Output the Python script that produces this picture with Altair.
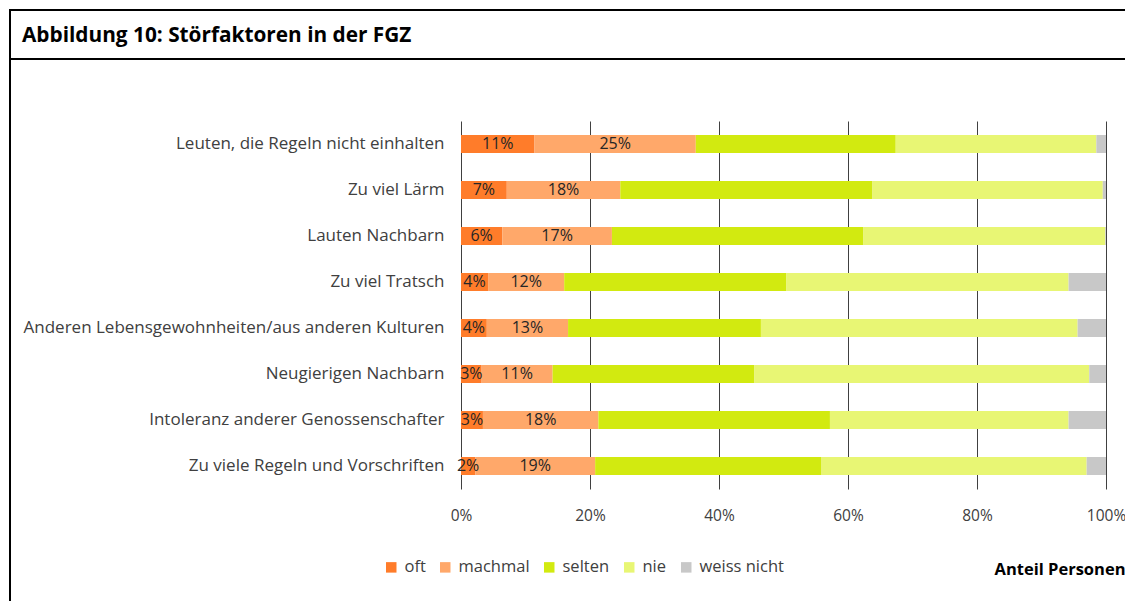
import altair as alt
import pandas as pd

# ---- data ----
items = [
    "Leuten, die Regeln nicht einhalten",
    "Zu viel Lärm",
    "Lauten Nachbarn",
    "Zu viel Tratsch",
    "Anderen Lebensgewohnheiten/aus anderen Kulturen",
    "Neugierigen Nachbarn",
    "Intoleranz anderer Genossenschafter",
    "Zu viele Regeln und Vorschriften",
]
categories = ["oft", "machmal", "selten", "nie", "weiss nicht"]
oft = [11.4, 7.1, 6.4, 4.2, 4.0, 3.2, 3.4, 2.2]
machmal = [25.0, 17.6, 17.0, 11.8, 12.6, 11.0, 17.9, 18.6]
selten = [31.0, 39.1, 39.0, 34.4, 29.9, 31.3, 35.9, 35.1]
nie = [31.1, 35.7, 37.5, 43.8, 49.1, 51.9, 37.0, 41.1]
weiss_nicht = [1.5, 0.5, 0.1, 5.8, 4.4, 2.6, 5.8, 3.0]
colors = ["#FF7C2A", "#FFA86A", "#D2EA10", "#E8F674", "#C8C8C8"]
x_ticks = [0, 0.2, 0.4, 0.6, 0.8, 1.0]
title_text = "Abbildung 10: Störfaktoren in der FGZ"
x_title = "Anteil Personen"

series = [oft, machmal, selten, nie, weiss_nicht]
rows = []
for i, it in enumerate(items):
    for k, cat in enumerate(categories):
        rows.append({"item": it, "cat": cat, "order": k, "value": series[k][i] / 100})
df = pd.DataFrame(rows)

FONT = "Open Sans"
TXT = "#404040"

base = alt.Chart(df)

bars = base.mark_bar(size=18).encode(
    y=alt.Y(
        "item:N",
        sort=items,
        title=None,
        axis=alt.Axis(
            ticks=False, domain=False, labelPadding=17, labelFontSize=17,
            labelColor=TXT, labelFont=FONT, labelLimit=500,
        ),
    ),
    x=alt.X(
        "value:Q",
        stack="zero",
        scale=alt.Scale(domain=[0, 1], nice=False),
        axis=alt.Axis(
            format="%", values=x_ticks, grid=True, gridColor="#404040",
            gridWidth=1, ticks=False, domain=False, labelPadding=19,
            labelFlush=False,
            labelFontSize=15.5, labelColor=TXT, labelFont=FONT,
            title=x_title, titleX=664, titleY=80, titleAlign="right",
            titleAnchor="end", titleBaseline="middle", titleFontSize=16.5,
            titleFont=FONT, titleFontWeight="bold", titleColor="#000000",
        ),
    ),
    color=alt.Color(
        "cat:N",
        sort=categories,
        scale=alt.Scale(domain=categories, range=colors),
        legend=alt.Legend(
            orient="none", legendX=-78, legendY=438, direction="horizontal",
            title=None, symbolType="square", symbolSize=110,
            symbolStrokeWidth=0, labelFontSize=16.5, labelFont=FONT,
            labelColor=TXT, columnPadding=11, labelOffset=5,
        ),
    ),
    order=alt.Order("order:Q", sort="ascending"),
)

labels = (
    base.transform_stack(
        stack="value", groupby=["item"],
        sort=[alt.SortField("order", order="ascending")], as_=["x0", "x1"],
    )
    .transform_calculate(mid="(datum.x0 + datum.x1) / 2")
    .transform_filter("datum.order < 2")
    .mark_text(fontSize=16, font=FONT, color="#262626")
    .encode(
        y=alt.Y("item:N", sort=items),
        x=alt.X("mid:Q"),
        text=alt.Text("value:Q", format=".0%"),
    )
)

one = pd.DataFrame({"t": [title_text]})
top_line = alt.Chart(one).mark_rule(color="black", strokeWidth=2).encode(
    x=alt.value(-451), x2=alt.value(700), y=alt.value(-111)
)
sep_line = alt.Chart(one).mark_rule(color="black", strokeWidth=2).encode(
    x=alt.value(-451), x2=alt.value(700), y=alt.value(-62)
)
left_line = alt.Chart(one).mark_rule(color="black", strokeWidth=2).encode(
    x=alt.value(-451), y=alt.value(-112), y2=alt.value(490)
)
title = alt.Chart(one).mark_text(
    align="left", baseline="alphabetic", fontSize=20.8, fontWeight="bold",
    font=FONT, color="black",
).encode(x=alt.value(-439), y=alt.value(-79), text="t:N")

chart = (
    alt.layer(bars, labels, top_line, sep_line, left_line, title)
    .properties(
        width=645, height=368,
        padding={"left": 453, "top": 113, "right": 19, "bottom": 112},
        autosize=alt.AutoSizeParams(type="none"),
        background="white",
    )
    .configure_view(stroke=None)
)

chart.save("out.html", embed_options={"renderer": "svg", "actions": False})
